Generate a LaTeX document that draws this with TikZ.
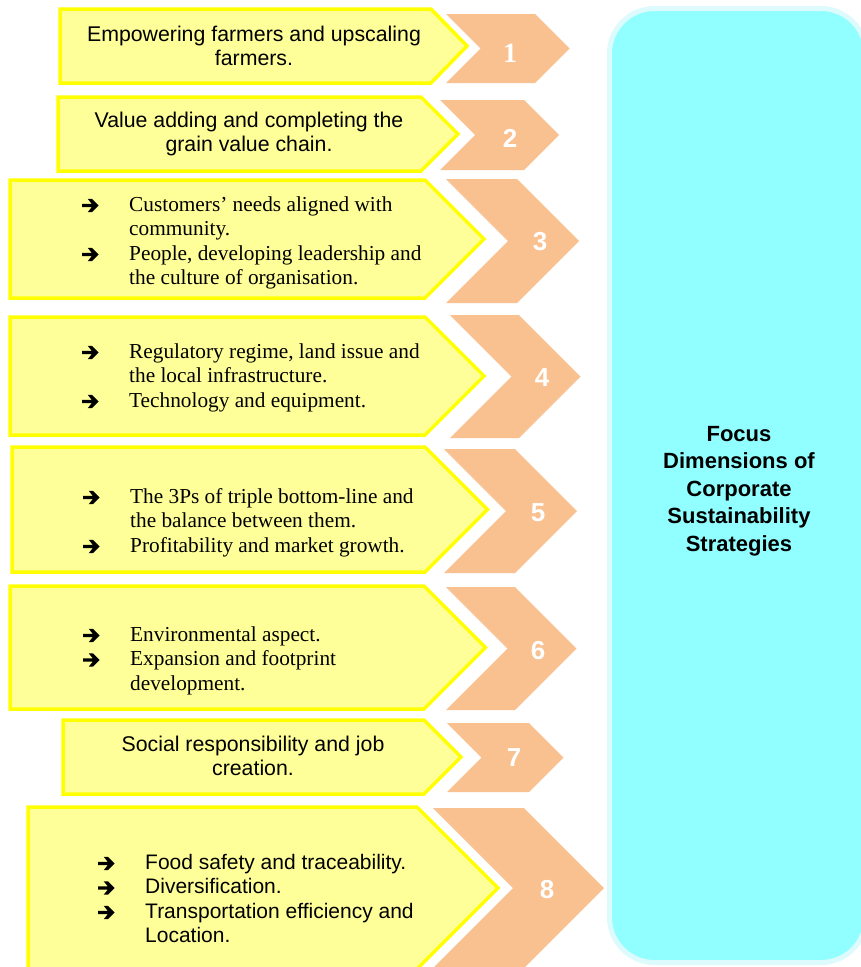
\documentclass[tikz,border=0pt]{standalone}
\usepackage{fontspec}
\setmainfont{Liberation Serif}
\newfontfamily\arialfont{Liberation Sans}

\definecolor{boxfill}{HTML}{FFFF99}
\definecolor{boxedge}{HTML}{FFFF00}
\definecolor{chevfill}{RGB}{249,192,144}
\definecolor{panelfill}{HTML}{91FFFF}
\definecolor{paneledge}{HTML}{DDFAFC}

% heavy bullet arrow used in the item lists
\newcommand\arr{\makebox[46pt][l]{\hspace*{-1pt}\tikz[baseline=0pt, x=1pt, y=1pt]
  \fill[black] (0,3.8) -- (9.5,3.8) -- (5.5,-1.2) -- (9.8,-1.2) -- (16.5,5.5)
    -- (9.8,12.2) -- (5.5,12.2) -- (9.5,7.2) -- (0,7.2) -- cycle;}}

\tikzset{
  itembox/.style={draw=boxedge, fill=boxfill, line width=3.5pt, line join=miter},
  chevbox/.style={fill=chevfill},
  numlabel/.style={text=white, font=\arialfont\bfseries\fontsize{26}{26}\selectfont, inner sep=0pt},
  sanstext/.style={anchor=base, inner sep=0pt, font=\arialfont\fontsize{21.3}{24}\selectfont},
  seriftext/.style={anchor=base west, inner sep=0pt, font=\fontsize{21.3}{24.5}\selectfont},
  sanslist/.style={anchor=base west, inner sep=0pt, font=\arialfont\fontsize{21}{24.5}\selectfont},
}

\begin{document}
\begin{tikzpicture}[x=1pt, y=-1pt]
\useasboundingbox (0,0) rectangle (861,967);
\clip (0,0) rectangle (861,967);

% right-hand panel
\draw[line width=5pt, draw=paneledge, fill=panelfill, rounded corners=45pt]
  (609.5,8.5) rectangle (866,962.5);
\node[anchor=base, inner sep=0pt, align=center,
      font=\arialfont\bfseries\fontsize{22}{27.5}\selectfont] (focus) at (739,441)
  {\begin{tabular}[t]{@{}c@{}}Focus\\Dimensions of\\Corporate\\Sustainability\\Strategies\end{tabular}};

% item boxes (pentagons pointing right)
\draw[itembox] (60,9) -- (431,9) -- (467,46) -- (431,83) -- (60,83) -- cycle;
\draw[itembox] (58,97) -- (421,97) -- (458,134) -- (421,171) -- (58,171) -- cycle;
\draw[itembox] (10,180) -- (425,180) -- (484,239) -- (425,298) -- (10,298) -- cycle;
\draw[itembox] (10,317) -- (425,317) -- (484,376) -- (425,435) -- (10,435) -- cycle;
\draw[itembox] (12,447) -- (425,447) -- (487.5,509.5) -- (425,572) -- (12,572) -- cycle;
\draw[itembox] (10,586) -- (424,586) -- (485.5,647.5) -- (424,709) -- (10,709) -- cycle;
\draw[itembox] (63,720) -- (424,720) -- (461,757) -- (424,794) -- (63,794) -- cycle;
\draw[itembox] (28,807) -- (417,807) -- (498,888) -- (417,969) -- (28,969) -- cycle;

% numbered chevrons
\fill[chevbox] (446,14) -- (535,14) -- (569.5,48.5) -- (535,83) -- (446,83) -- (480.5,48.5) -- cycle;
\fill[chevbox] (440,100) -- (524,100) -- (559,135) -- (524,170) -- (440,170) -- (475,135) -- cycle;
\fill[chevbox] (446,179) -- (517,179) -- (579,241) -- (517,303) -- (446,303) -- (508,241) -- cycle;
\fill[chevbox] (450,315) -- (519,315) -- (580.5,376.5) -- (519,438) -- (450,438) -- (511.5,376.5) -- cycle;
\fill[chevbox] (444,449) -- (515,449) -- (577,511) -- (515,573) -- (444,573) -- (506,511) -- cycle;
\fill[chevbox] (446,587) -- (515,587) -- (576.5,648.5) -- (515,710) -- (446,710) -- (507.5,648.5) -- cycle;
\fill[chevbox] (447,723) -- (529,723) -- (563.5,757.5) -- (529,792) -- (447,792) -- (481.5,757.5) -- cycle;
\fill[chevbox] (433,808) -- (524,808) -- (604,888) -- (524,968) -- (433,968) -- (513,888) -- cycle;

\node[numlabel, font=\rmfamily\bfseries\fontsize{28}{28}\selectfont] (n1) at (510,53) {1};
\node[numlabel] (n2) at (510,138) {2};
\node[numlabel] (n3) at (540,242) {3};
\node[numlabel] (n4) at (542,378) {4};
\node[numlabel] (n5) at (538,513) {5};
\node[numlabel] (n6) at (538,651) {6};
\node[numlabel] (n7) at (514,758) {7};
\node[numlabel] (n8) at (547,890) {8};

% box texts
\node[sanstext] (t1) at (254,41)
  {\begin{tabular}[t]{@{}c@{}}Empowering farmers and upscaling\\farmers.\end{tabular}};
\node[sanstext] (t2) at (249,127)
  {\begin{tabular}[t]{@{}c@{}}Value adding and completing the\\grain value chain.\end{tabular}};
\node[seriftext] (t3) at (83,211)
  {\begin{tabular}[t]{@{}l@{}l@{}}\arr & Customers’ needs aligned with\\ & community.\\
   \arr & People, developing leadership and\\ & the culture of organisation.\end{tabular}};
\node[seriftext] (t4) at (83,358)
  {\begin{tabular}[t]{@{}l@{}l@{}}\arr & Regulatory regime, land issue and\\ & the local infrastructure.\\
   \arr & Technology and equipment.\end{tabular}};
\node[seriftext] (t5) at (84,503)
  {\begin{tabular}[t]{@{}l@{}l@{}}\arr & The 3Ps of triple bottom-line and\\ & the balance between them.\\
   \arr & Profitability and market growth.\end{tabular}};
\node[seriftext] (t6) at (84,641)
  {\begin{tabular}[t]{@{}l@{}l@{}}\arr & Environmental aspect.\\
   \arr & Expansion and footprint\\ & development.\end{tabular}};
\node[sanstext] (t7) at (253,751)
  {\begin{tabular}[t]{@{}c@{}}Social responsibility and job\\creation.\end{tabular}};
\node[sanslist] (t8) at (99,869)
  {\begin{tabular}[t]{@{}l@{}l@{}}\arr & Food safety and traceability.\\
   \arr & Diversification.\\
   \arr & Transportation efficiency and\\ & Location.\end{tabular}};
\end{tikzpicture}
\end{document}
